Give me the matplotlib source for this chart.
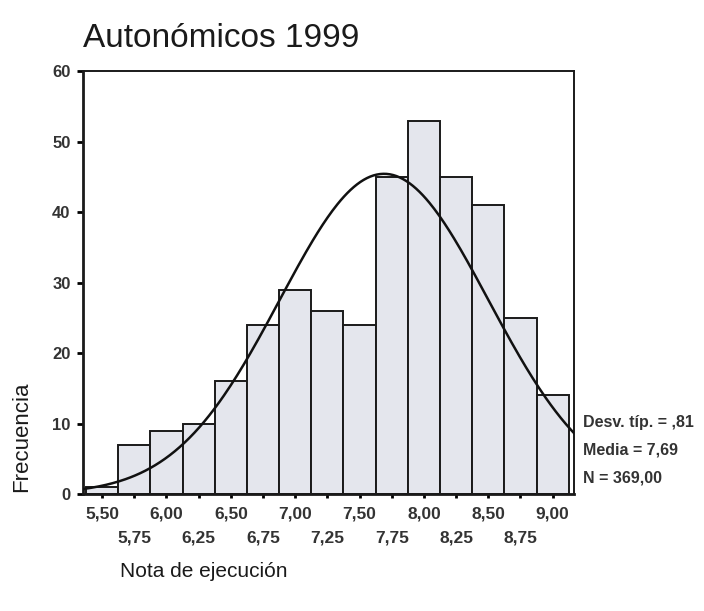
import matplotlib
matplotlib.use('Agg')
import matplotlib.pyplot as plt
import numpy as np

plt.rcParams['font.family'] = ['Liberation Sans', 'DejaVu Sans']

# bin centres and counts
centers = [5.50, 5.75, 6.00, 6.25, 6.50, 6.75, 7.00, 7.25,
           7.50, 7.75, 8.00, 8.25, 8.50, 8.75, 9.00]
counts = [1, 7, 9, 10, 16, 24, 29, 26, 24, 45, 53, 45, 41, 25, 14]
bin_width = 0.25

# summary statistics shown on the right
media = 7.69
desv = 0.81
n_total = 369
stat_labels = ['Desv. típ. = ,81', 'Media = 7,69', 'N = 369,00']

row1_ticks = [5.50, 6.00, 6.50, 7.00, 7.50, 8.00, 8.50, 9.00]
row2_ticks = [5.75, 6.25, 6.75, 7.25, 7.75, 8.25, 8.75]


def fmt(v):
    return ('%.2f' % v).replace('.', ',')


fig = plt.figure(figsize=(7.04, 6.11), dpi=100)
ax = fig.add_axes([0.118, 0.1915, 0.697, 0.692])

ax.bar(centers, counts, width=bin_width, color='#e4e6ed',
       edgecolor='#1a1a1a', linewidth=1.4, zorder=2)

# fitted normal curve
xs = np.linspace(5.35, 9.165, 300)
ys = n_total * bin_width * np.exp(-0.5 * ((xs - media) / desv) ** 2) / (desv * np.sqrt(2 * np.pi))
ax.plot(xs, ys, color='#111111', linewidth=1.8, zorder=3)

ax.set_xlim(5.352, 9.164)
ax.set_ylim(0, 60)
ax.set_yticks(range(0, 61, 10))
ax.tick_params(axis='y', direction='out', length=4, width=2, labelsize=12, pad=5)
for lab in ax.get_yticklabels():
    lab.set_fontweight('bold')
    lab.set_color('#333333')

ax.set_xticks(row1_ticks + row2_ticks)
ax.set_xticklabels([fmt(v) for v in row1_ticks] + ['\n' + fmt(v) for v in row2_ticks],
                   fontsize=12.5, fontweight='bold', color='#333333', linespacing=1.75)
ax.tick_params(axis='x', direction='out', length=3, width=2, pad=6)

for s in ax.spines.values():
    s.set_linewidth(1.4)
    s.set_color('#1a1a1a')
ax.spines['left'].set_linewidth(2)
ax.spines['bottom'].set_linewidth(2)

for i, t in enumerate(stat_labels):
    ax.text(1.018, 0.17 - i * 0.066, t, transform=ax.transAxes, fontsize=11.5,
            fontweight='bold', color='#333333', va='center', ha='left')

fig.text(0.118, 0.937, 'Autonómicos 1999', fontsize=24, color='#1a1a1a',
         ha='left', va='center')
fig.text(0.031, 0.285, 'Frecuencia', fontsize=16, color='#1a1a1a',
         rotation=90, ha='center', va='center')
fig.text(0.17, 0.064, 'Nota de ejecución', fontsize=15, color='#1a1a1a',
         ha='left', va='center')

fig.savefig('out.png', dpi=100)
